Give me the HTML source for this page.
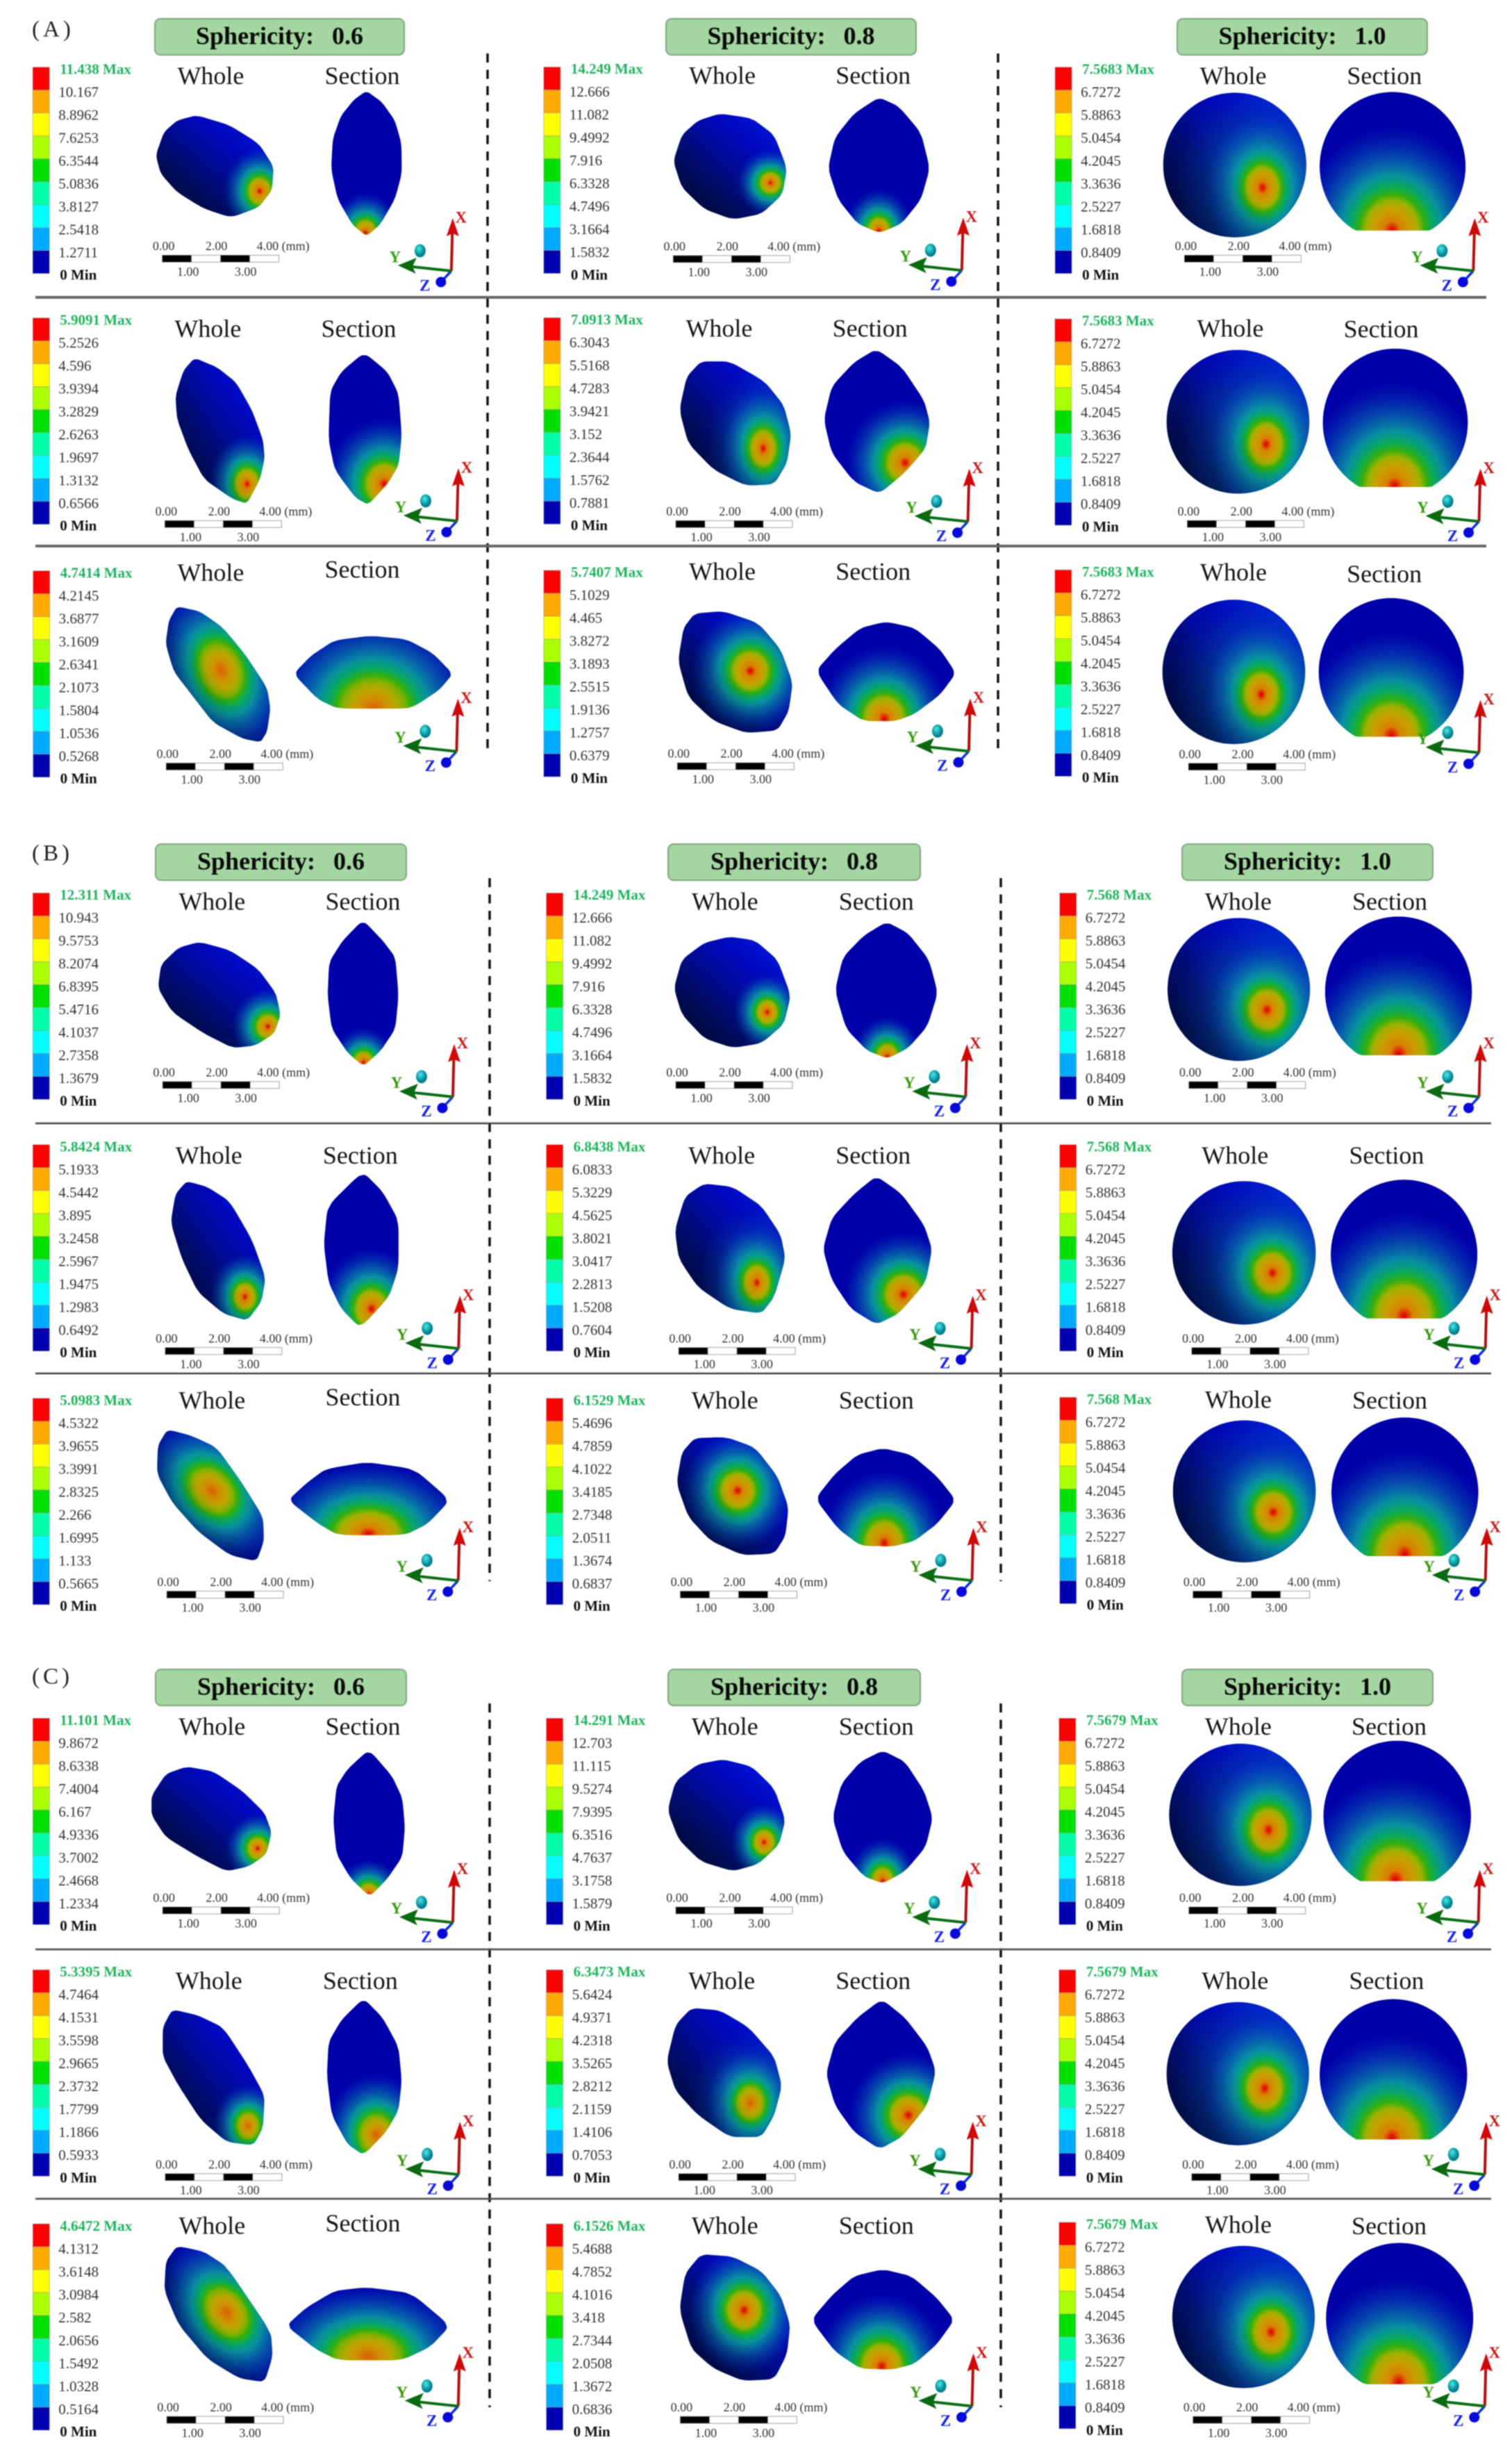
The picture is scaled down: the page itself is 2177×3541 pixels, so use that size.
<!DOCTYPE html>
<html lang="en">
<head>
<meta charset="utf-8">
<title>Sphericity stress contour comparison</title>
<style>
html,body{margin:0;padding:0;background:#fff;width:2177px;height:3541px;overflow:hidden}
svg{display:block;filter:blur(0.8px)}
text{font-family:"Liberation Serif",serif}
</style>
</head>
<body>
<svg id="figure" xmlns="http://www.w3.org/2000/svg" width="2177" height="3541" viewBox="0 0 2177 3541">
<defs>
<linearGradient id="baseWhole" x1="0.1" y1="0.95" x2="0.9" y2="0.05">
<stop offset="0" stop-color="#000c34"/><stop offset="0.4" stop-color="#000c80"/><stop offset="0.72" stop-color="#0008bc"/><stop offset="1" stop-color="#0018e0"/>
</linearGradient>
<linearGradient id="shadeWhole" x1="0" y1="1" x2="0.9" y2="0.2">
<stop offset="0" stop-color="#00082a" stop-opacity="0.4"/><stop offset="0.4" stop-color="#00082a" stop-opacity="0.15"/><stop offset="0.58" stop-color="#00082a" stop-opacity="0"/>
</linearGradient>
<radialGradient id="jet1">
<stop offset="0" stop-color="#d80000"/><stop offset="0.03" stop-color="#e02000"/><stop offset="0.09" stop-color="#d88000"/><stop offset="0.2" stop-color="#c8a000"/><stop offset="0.28" stop-color="#a0b000"/><stop offset="0.35" stop-color="#30b010"/><stop offset="0.43" stop-color="#08a860"/><stop offset="0.53" stop-color="#0898a0" stop-opacity="0.95"/><stop offset="0.72" stop-color="#0870b0" stop-opacity="0.6"/><stop offset="1" stop-color="#0040c0" stop-opacity="0"/>
</radialGradient>
<radialGradient id="jet2">
<stop offset="0" stop-color="#d86000"/><stop offset="0.12" stop-color="#d09000"/><stop offset="0.22" stop-color="#b8a800"/><stop offset="0.3" stop-color="#80b000"/><stop offset="0.36" stop-color="#30b010"/><stop offset="0.43" stop-color="#08a860"/><stop offset="0.53" stop-color="#0898a0" stop-opacity="0.95"/><stop offset="0.72" stop-color="#0870b0" stop-opacity="0.6"/><stop offset="1" stop-color="#0040c0" stop-opacity="0"/>
</radialGradient>
<radialGradient id="halo">
<stop offset="0" stop-color="#0890a8" stop-opacity="0.8"/><stop offset="0.5" stop-color="#0868b0" stop-opacity="0.5"/><stop offset="1" stop-color="#0040b8" stop-opacity="0"/>
</radialGradient>
<radialGradient id="cyanBall" cx="0.4" cy="0.35">
<stop offset="0" stop-color="#60e0e0"/><stop offset="0.6" stop-color="#10b0b8"/><stop offset="1" stop-color="#088090"/>
</radialGradient>
</defs>
</svg>
<script>
// Colour bands of the legend, top to bottom
const bandColors = ['#ff0000','#ffaa00','#ffff00','#aaff00','#00e000','#00ffaa','#00ffff','#00aaff','#0000b0'];

// Legend tick labels per panel: first entry is the Max label, the rest are contour levels
const ticksA00 = ['11.438','10.167','8.8962','7.6253','6.3544','5.0836','3.8127','2.5418','1.2711'];
const ticksA10 = ['5.9091','5.2526','4.596','3.9394','3.2829','2.6263','1.9697','1.3132','0.6566'];
const ticksA20 = ['4.7414','4.2145','3.6877','3.1609','2.6341','2.1073','1.5804','1.0536','0.5268'];
const ticksA01 = ['14.249','12.666','11.082','9.4992','7.916','6.3328','4.7496','3.1664','1.5832'];
const ticksA11 = ['7.0913','6.3043','5.5168','4.7283','3.9421','3.152','2.3644','1.5762','0.7881'];
const ticksA21 = ['5.7407','5.1029','4.465','3.8272','3.1893','2.5515','1.9136','1.2757','0.6379'];
const ticksA2x = ['7.5683','6.7272','5.8863','5.0454','4.2045','3.3636','2.5227','1.6818','0.8409'];
const ticksB00 = ['12.311','10.943','9.5753','8.2074','6.8395','5.4716','4.1037','2.7358','1.3679'];
const ticksB10 = ['5.8424','5.1933','4.5442','3.895','3.2458','2.5967','1.9475','1.2983','0.6492'];
const ticksB20 = ['5.0983','4.5322','3.9655','3.3991','2.8325','2.266','1.6995','1.133','0.5665'];
const ticksB01 = ['14.249','12.666','11.082','9.4992','7.916','6.3328','4.7496','3.1664','1.5832'];
const ticksB11 = ['6.8438','6.0833','5.3229','4.5625','3.8021','3.0417','2.2813','1.5208','0.7604'];
const ticksB21 = ['6.1529','5.4696','4.7859','4.1022','3.4185','2.7348','2.0511','1.3674','0.6837'];
const ticksB2x = ['7.568','6.7272','5.8863','5.0454','4.2045','3.3636','2.5227','1.6818','0.8409'];
const ticksC00 = ['11.101','9.8672','8.6338','7.4004','6.167','4.9336','3.7002','2.4668','1.2334'];
const ticksC10 = ['5.3395','4.7464','4.1531','3.5598','2.9665','2.3732','1.7799','1.1866','0.5933'];
const ticksC20 = ['4.6472','4.1312','3.6148','3.0984','2.582','2.0656','1.5492','1.0328','0.5164'];
const ticksC01 = ['14.291','12.703','11.115','9.5274','7.9395','6.3516','4.7637','3.1758','1.5879'];
const ticksC11 = ['6.3473','5.6424','4.9371','4.2318','3.5265','2.8212','2.1159','1.4106','0.7053'];
const ticksC21 = ['6.1526','5.4688','4.7852','4.1016','3.418','2.7344','2.0508','1.3672','0.6836'];
const ticksC2x = ['7.5679','6.7272','5.8863','5.0454','4.2045','3.3636','2.5227','1.6818','0.8409'];

// Scale-bar labels
const scaleTopLabels = ['0.00','2.00','4.00 (mm)'];
const scaleBottomLabels = ['1.00','3.00'];
const sphericityLabels = ['0.6','0.8','1.0'];
const partLabels = ['A','B','C'];

const svg = document.getElementById('figure');
const NS = 'http://www.w3.org/2000/svg';
function el(tag, attrs, parent, txt){
  const e = document.createElementNS(NS, tag);
  for (const k in attrs) e.setAttribute(k, attrs[k]);
  if (txt !== undefined) e.textContent = txt;
  (parent || svg).appendChild(e);
  return e;
}
function label(parent, cx, cy, txt, size, opts){
  const o = Object.assign({'font-size':size, fill:'#1a1a1a'}, opts || {});
  o.x = cx; o.y = cy + size * 0.32;
  return el('text', o, parent, txt);
}

// Reference measuring frames
const F = {
  a00:{ox:0,oy:0,sx:2.119,sy:3}, a10:{ox:0,oy:420,sx:2.178,sy:3}, a20:{ox:0,oy:780,sx:2.119,sy:3},
  a1:{ox:720,oy:60,sx:2.178,sy:1.452}, a02:{ox:1480,oy:0,sx:2.25,sy:3}, a2:{ox:1450,oy:420,sx:2.178,sy:2.178},
  b0:{ox:0,oy:1240,sx:2.178,sy:1.452}, b1:{ox:720,oy:1240,sx:2.178,sy:1.452}, b2:{ox:1450,oy:1240,sx:2.178,sy:1.452},
  c0:{ox:0,oy:2420,sx:2.178,sy:1.425}, c1:{ox:720,oy:2420,sx:2.178,sy:1.425}, c2:{ox:1450,oy:2420,sx:2.178,sy:1.425}
};
function mx(f,x){return f.ox + x / f.sx;}
function my(f,y){return f.oy + y / f.sy;}

function convexHull(pts){
  const p = pts.slice().sort(function(a,b){return a[0]-b[0] || a[1]-b[1];});
  function cross(o,a,b){return (a[0]-o[0])*(b[1]-o[1])-(a[1]-o[1])*(b[0]-o[0]);}
  const lo = [], up = [];
  p.forEach(function(q){
    while (lo.length > 1 && cross(lo[lo.length-2], lo[lo.length-1], q) <= 0) lo.pop();
    lo.push(q);
  });
  p.slice().reverse().forEach(function(q){
    while (up.length > 1 && cross(up[up.length-2], up[up.length-1], q) <= 0) up.pop();
    up.push(q);
  });
  lo.pop(); up.pop();
  return lo.concat(up);
}
function chaikin(pts, iters){
  let cur = pts;
  for (let k = 0; k < iters; k++){
    const out = [];
    for (let i = 0; i < cur.length; i++){
      const a = cur[i], b = cur[(i+1)%cur.length];
      out.push([a[0]*0.86+b[0]*0.14, a[1]*0.86+b[1]*0.14]);
      out.push([a[0]*0.14+b[0]*0.86, a[1]*0.14+b[1]*0.86]);
    }
    cur = out;
  }
  return cur;
}
function polyPath(pts){
  return pts.map(function(p,i){return (i?'L':'M') + p[0].toFixed(1) + ' ' + p[1].toFixed(1);}).join('') + 'Z';
}
function ellipsePath(cx, cy, rx, ry, cut){
  let d = '';
  for (let i = 0; i < 96; i++){
    const t = i / 96 * Math.PI * 2;
    let y = cy + ry * Math.sin(t);
    if (cut !== undefined && y > cut) y = cut;
    d += (i ? 'L' : 'M') + (cx + rx * Math.cos(t)).toFixed(1) + ' ' + y.toFixed(1);
  }
  return d + 'Z';
}

let clipId = 0;
function drawModel(parent, f, spec, hot, kind){
  let d;
  if (spec.e){
    const l = mx(f,spec.e[0]), r = mx(f,spec.e[1]), t = my(f,spec.e[2]), b = my(f,spec.e[3]);
    d = ellipsePath((l+r)/2, (t+b)/2, (r-l)/2, (b-t)/2);
  } else if (spec.c){
    const l = mx(f,spec.c[0]), r = mx(f,spec.c[1]), t = my(f,spec.c[2]), cut = my(f,spec.c[3]);
    const rx = (r-l)/2, ry = rx * 1.02;
    d = ellipsePath((l+r)/2, t + ry, rx, ry, cut);
  } else {
    const pts = [];
    for (let i = 0; i < spec.p.length; i += 2) pts.push([mx(f,spec.p[i]), my(f,spec.p[i+1])]);
    d = polyPath(chaikin(convexHull(pts), 3));
  }
  const id = 'clip' + (clipId++);
  const cp = el('clipPath', {id:id}, svg.querySelector('defs'));
  el('path', {d:d}, cp);
  const g = el('g', {'clip-path':'url(#' + id + ')'}, parent);
  
  
  el('path', {d:d, fill: kind === 'whole' ? 'url(#baseWhole)' : '#0000a8'}, g);
  const hx = mx(f,hot[0]), hy = my(f,hot[1]);
  if (hot[6]){
    el('ellipse', {cx:hx, cy:hy, rx:hot[2]*hot[6], ry:hot[3]*hot[6], fill:'url(#halo)'}, g);
  }
  const attrs = {cx:hx, cy:hy, rx:hot[2], ry:hot[3], fill:'url(#' + (hot[5] === 2 ? 'jet2' : 'jet1') + ')'};
  if (hot[4]) attrs.transform = 'rotate(' + hot[4] + ' ' + hx.toFixed(1) + ' ' + hy.toFixed(1) + ')';
  const hs = el('ellipse', attrs, g);
  
  
  if (kind === 'whole') el('path', {d:d, fill:'url(#shadeWhole)'}, g);
}

function drawLegend(parent, x, y, ticks){
  const g = el('g', {}, parent);
  
  
  const h = 33;
  bandColors.forEach(function(c, i){
    const b = el('rect', {x:x, y:y + i*h, width:24, height:h, fill:c, stroke:'#9a9a9a', 'stroke-width':0.6}, g);
    
    
  });
  ticks.forEach(function(v, i){
    const isMax = i === 0;
    const t = label(g, x + (isMax ? 39 : 37), y + 3 + i*33, isMax ? v + ' Max' : v, 21,
      isMax ? {fill:'#1db35c','font-weight':'bold'} : {fill:'#333'});
    
    
  });
  const m = label(g, x + 39, y + 3 + 9*32.9, '0 Min', 21, {fill:'#111','font-weight':'bold'});
  
  
}

function drawScale(parent, x, y){
  const g = el('g', {}, parent);
  
  
  for (let i = 0; i < 4; i++){
    el('rect', {x:x + i*42, y:y, width:42, height:10, fill: i % 2 ? '#fff' : '#000', stroke:'#888', 'stroke-width':0.8}, g);
  }
  const topX = [2, 78];
  scaleTopLabels.forEach(function(t, i){
    const o = {fill:'#333'};
    if (i < 2) o['text-anchor'] = 'middle';
    const s = label(g, i < 2 ? x + topX[i] : x + 136, y - 13, t, 18, o);
    
    
  });
  const botX = [37, 120];
  scaleBottomLabels.forEach(function(t, i){
    const s = label(g, x + botX[i], y + 24, t, 18, {fill:'#333','text-anchor':'middle'});
    
    
  });
}

function drawTriad(parent, x, y){
  const g = el('g', {}, parent);
  
  
  el('ellipse', {cx:x-45, cy:y-29, rx:8, ry:9.5, fill:'url(#cyanBall)'}, g);
  el('line', {x1:x, y1:y, x2:x-15, y2:y+16, stroke:'#1030e0','stroke-width':3.5}, g);
  el('circle', {cx:x-15, cy:y+16, r:7.5, fill:'#0808d8'}, g);
  el('line', {x1:x, y1:y, x2:x+1.5, y2:y-58, stroke:'#b01010','stroke-width':4}, g);
  el('path', {d:'M'+(x+2)+' '+(y-76)+'L'+(x+11)+' '+(y-50)+'L'+(x+2)+' '+(y-54)+'L'+(x-7)+' '+(y-50)+'Z', fill:'#d00808'}, g);
  el('line', {x1:x, y1:y, x2:x-56, y2:y-6, stroke:'#0a6e14','stroke-width':4}, g);
  el('path', {d:'M'+(x-77)+' '+(y-8)+'L'+(x-50)+' '+(y-19)+'L'+(x-56)+' '+(y-6)+'L'+(x-51)+' '+(y+4)+'Z', fill:'#0a6a10'}, g);
  const X = label(g, x+14, y-77, 'X', 23, {fill:'#c81818','font-weight':'bold','text-anchor':'middle'});
  
  
  const Y = label(g, x-81, y-20, 'Y', 23, {fill:'#3a9a10','font-weight':'bold','text-anchor':'middle'});
  
  
  const Z = label(g, x-38, y+21, 'Z', 23, {fill:'#1820e8','font-weight':'bold','text-anchor':'middle'});
  
  
}

function panel(f, ticks, o){
  const g = el('g', {});
  
  
  drawLegend(g, mx(f,o.bar[0]), my(f,o.bar[1]), ticks);
  const w = label(g, mx(f,o.wl[0]), my(f,o.wl[1]), 'Whole', 36, {'text-anchor':'middle',fill:'#151515'});
  
  
  const s = label(g, mx(f,o.sl[0]), my(f,o.sl[1]), 'Section', 36, {'text-anchor':'middle',fill:'#151515'});
  
  
  drawModel(g, f, o.W, o.Wh, 'whole');
  drawModel(g, f, o.S, o.Sh, 'section');
  drawScale(g, mx(f,o.sc[0]), my(f,o.sc[1]));
  drawTriad(g, mx(f,o.t[0]), my(f,o.t[1]));
}

// ---------- Headers, part labels, separators ----------
const headerX = [[223,582,959,1319,1695,2055],[224,585,962,1325,1702,2063],[224,585,962,1325,1702,2063]];
const headerY = [27,1215,2403];
const partLabelY = [42,1228,2413];
const vsepX = [[702,1437],[705,1441],[705,1441]];
const vsepY = [[77,1085],[1264,2276],[2452,3465]];
const hsepY = [[428,786],[1617,1977],[2806,3165]];
const hsepEnd = [2140,2147,2147];
const hsepW = [4,2.6,2.8];
const hsepC = ['#666','#444','#555'];

partLabels.forEach(function(p, k){
  const lab = label(svg, 46, partLabelY[k], '(' + p + ')', 33, {'letter-spacing':5,fill:'#222'});
  
  
  sphericityLabels.forEach(function(sv, c){
    const x0 = headerX[k][c*2], x1 = headerX[k][c*2+1];
    const g = el('g', {});
    
    
    el('rect', {x:x0, y:headerY[k], width:x1-x0, height:52, rx:8, ry:8, fill:'#a3d6a0', stroke:'#7fa67f','stroke-width':2}, g);
    const t = label(g, (x0+x1)/2, headerY[k]+25, 'Sphericity:', 36, {'text-anchor':'middle','font-weight':'bold',fill:'#0a0a0a'});
    el('tspan', {dx:26}, t, sv);
  });
  vsepX[k].forEach(function(x){
    const v = el('line', {x1:x, y1:vsepY[k][0], x2:x, y2:vsepY[k][1], stroke:'#111','stroke-width':3.5,'stroke-dasharray':'13 10.5'});
    
    
  });
  hsepY[k].forEach(function(y){
    const h = el('line', {x1:51, y1:y, x2:hsepEnd[k], y2:y, stroke:hsepC[k],'stroke-width':hsepW[k]});
    
    
  });
});

// ---------- Group A ----------
panel(F.a00, ticksA00, {bar:[100,290],wl:[643,328],sl:[1105,328],sc:[495,1102],t:[1377,1170],
 W:{p:[600,497,700,540,790,620,835,720,830,820,790,895,705,940,620,900,540,830,490,750,475,670,500,570,540,520]},Wh:[792,825,52,62,0,1],
 S:{p:[1118,392,1165,440,1205,520,1225,620,1226,750,1205,860,1160,970,1118,1020,1075,970,1030,860,1010,730,1015,600,1040,500,1080,430]},Sh:[1115,1005,50,58,0,1]});
panel(F.a10, ticksA10, {bar:[103,113],wl:[652,160],sl:[1125,160],sc:[517,988],t:[1433,990],
 W:{p:[610,285,680,325,740,390,790,510,825,640,830,720,815,810,775,915,730,895,640,810,590,680,555,550,550,450,575,340]},Wh:[775,830,55,70,0,1],
 S:{p:[1142,262,1215,345,1250,440,1260,620,1250,750,1215,830,1155,920,1115,890,1050,770,1030,640,1035,430,1070,345]},Sh:[1205,830,85,95,0,1]});
panel(F.a20, ticksA20, {bar:[101,125],wl:[643,133],sl:[1105,120],sc:[507,955],t:[1393,905],
 W:{p:[540,278,610,300,680,370,750,490,815,630,825,720,815,820,795,865,740,850,650,780,590,670,530,560,505,440,515,340]},Wh:[675,555,90,125,-22,2],
 S:{p:[895,570,950,490,1020,425,1130,405,1240,420,1320,480,1382,570,1340,640,1270,705,1240,720,1030,720,970,680]},Sh:[1140,720,150,135,0,2]});
panel(F.a1, ticksA01, {bar:[137,53],wl:[697,71],sl:[1170,71],sc:[543,447],t:[1448,478],
 W:{p:[690,150,790,160,860,195,900,265,885,320,820,360,730,372,640,350,570,305,543,250,570,195,620,165]},Wh:[848,295,48,48,0,1],
 S:{p:[1188,116,1250,135,1320,190,1348,265,1320,330,1260,380,1190,400,1120,380,1060,330,1028,265,1050,200,1110,150]},Sh:[1188,395,50,60,0,1]});
panel(F.a1, ticksA11, {bar:[137,577],wl:[687,600],sl:[1160,600],sc:[551,1001],t:[1467,1003],
 W:{p:[630,668,720,668,830,710,890,760,913,820,900,880,860,925,770,928,670,895,590,840,562,770,585,700]},Wh:[825,850,60,85,0,1,1.4],
 S:{p:[1180,642,1260,680,1330,750,1348,795,1335,850,1270,900,1190,945,1110,920,1040,860,1015,790,1040,720,1110,670]},Sh:[1270,880,85,90,0,1]});
panel(F.a1, ticksA21, {bar:[137,1105],wl:[697,1108],sl:[1170,1108],sc:[556,1507],t:[1470,1483],
 W:{p:[610,1195,700,1190,810,1215,880,1270,918,1340,905,1400,870,1440,770,1445,670,1420,590,1370,558,1295,575,1225]},Wh:[785,1315,85,90,0,1],
 S:{p:[990,1315,1050,1270,1130,1225,1210,1212,1300,1225,1380,1270,1430,1320,1380,1365,1300,1405,1240,1420,1140,1420,1060,1385]},Sh:[1205,1415,95,105,0,1]});
panel(F.a02, ticksA2x, {bar:[88,290],wl:[665,328],sl:[1155,328],sc:[507,1102],t:[1443,1170],
 W:{e:[438,902,400,1025]},Wh:[760,810,80,100,0,1,1.6],
 S:{c:[945,1418,397,995]},Sh:[1180,995,135,150,0,1]});
panel(F.a2, ticksA2x, {bar:[150,85],wl:[700,115],sl:[1173,118],sc:[565,717],t:[1480,720],
 W:{e:[500,948,182,633]},Wh:[812,478,80,100,0,1,1.6],
 S:{c:[990,1445,178,612]},Sh:[1215,610,135,150,0,1]});
panel(F.a2, ticksA2x, {bar:[150,872],wl:[710,880],sl:[1183,885],sc:[569,1478],t:[1480,1445],
 W:{e:[487,935,965,1418]},Wh:[797,1262,80,100,0,1,1.6],
 S:{c:[977,1432,960,1395]},Sh:[1205,1392,135,150,0,1]});

// ---------- Group B ----------
panel(F.b0, ticksB00, {bar:[103,66],wl:[665,84],sl:[1138,84],sc:[510,460],t:[1420,492],
 W:{p:[625,168,720,185,810,225,865,275,880,320,860,360,800,385,730,390,640,360,540,315,495,265,505,215,560,180]},Wh:[840,345,52,55,0,1],
 S:{p:[1138,122,1200,165,1240,200,1250,280,1240,350,1195,395,1140,428,1090,400,1040,350,1027,280,1032,210,1075,165]},Sh:[1140,420,45,50,0,1]});
panel(F.b0, ticksB10, {bar:[103,592],wl:[655,615],sl:[1130,615],sc:[518,1016],t:[1438,1018],
 W:{p:[585,668,650,680,720,710,790,790,833,870,820,920,775,960,700,945,620,900,570,830,535,755,550,695]},Wh:[768,910,50,62,0,1],
 S:{p:[1137,648,1200,690,1250,750,1250,850,1220,910,1130,975,1070,935,1030,880,1015,800,1027,720,1075,690]},Sh:[1165,935,75,88,0,1]});
panel(F.b0, ticksB20, {bar:[103,1122],wl:[665,1127],sl:[1138,1120],sc:[523,1525],t:[1437,1503],
 W:{p:[525,1187,600,1200,680,1225,760,1300,825,1370,828,1420,805,1463,720,1450,620,1400,540,1340,492,1280,495,1220]},Wh:[665,1315,85,115,-45,2],
 S:{p:[903,1335,960,1300,1020,1270,1150,1255,1300,1270,1412,1335,1340,1385,1270,1408,1060,1408,1000,1385]},Sh:[1155,1405,150,105,0,1]});
panel(F.b1, ticksB01, {bar:[145,66],wl:[705,84],sl:[1180,84],sc:[551,460],t:[1460,492],
 W:{p:[720,157,800,165,870,205,912,280,890,340,820,380,730,390,640,370,570,320,545,265,570,205,640,170]},Wh:[838,315,48,55,0,1],
 S:{p:[1212,126,1280,150,1345,205,1373,275,1340,345,1280,390,1215,412,1150,395,1085,350,1050,270,1075,200,1140,155]},Sh:[1214,408,50,58,0,1]});
panel(F.b1, ticksB11, {bar:[145,592],wl:[695,615],sl:[1170,615],sc:[560,1016],t:[1478,1018],
 W:{p:[640,673,730,680,820,720,880,780,895,830,860,910,820,945,720,935,620,890,560,830,548,770,580,700]},Wh:[805,880,60,80,0,1,1.4],
 S:{p:[1180,657,1260,695,1330,760,1355,810,1335,880,1250,945,1180,968,1100,935,1040,875,1012,810,1040,745,1110,695]},Sh:[1265,905,85,90,0,1]});
panel(F.b1, ticksB21, {bar:[145,1122],wl:[705,1127],sl:[1180,1127],sc:[565,1525],t:[1480,1503],
 W:{p:[610,1205,710,1203,800,1225,870,1285,905,1350,895,1410,860,1447,760,1450,660,1420,590,1370,553,1300,570,1235]},Wh:[745,1315,80,85,0,1],
 S:{p:[988,1332,1050,1280,1120,1240,1200,1226,1290,1240,1370,1285,1430,1335,1370,1385,1300,1420,1230,1432,1130,1430,1060,1395]},Sh:[1205,1425,90,105,0,1]});
panel(F.b2, ticksB2x, {bar:[165,66],wl:[725,84],sl:[1200,84],sc:[570,460],t:[1480,492],
 W:{e:[503,950,118,417]},Wh:[815,310,85,95,0,1,1.6],
 S:{c:[997,1458,115,405]},Sh:[1228,402,135,150,0,1]});
panel(F.b2, ticksB2x, {bar:[165,592],wl:[715,615],sl:[1190,615],sc:[579,1016],t:[1500,1018],
 W:{e:[518,968,668,968]},Wh:[832,860,85,95,0,1,1.6],
 S:{c:[1015,1475,665,955]},Sh:[1245,950,135,150,0,1]});
panel(F.b2, ticksB2x, {bar:[165,1120],wl:[725,1125],sl:[1200,1127],sc:[583,1525],t:[1500,1503],
 W:{e:[520,968,1168,1465]},Wh:[835,1360,85,95,0,1,1.6],
 S:{c:[1017,1478,1162,1452]},Sh:[1247,1448,135,150,0,1]});

// ---------- Group C ----------
panel(F.c0, ticksC00, {bar:[103,76],wl:[665,93],sl:[1138,93],sc:[510,463],t:[1420,495],
 W:{p:[585,175,670,185,760,225,830,270,852,310,835,355,780,380,710,390,620,360,520,320,475,275,475,235,520,190]},Wh:[808,343,46,50,0,1],
 S:{p:[1157,140,1230,195,1262,240,1270,300,1262,360,1215,405,1160,442,1100,405,1055,355,1045,285,1055,215,1090,180]},Sh:[1157,437,48,50,0,1]});
panel(F.c0, ticksC10, {bar:[103,592],wl:[655,615],sl:[1130,615],sc:[518,1010],t:[1438,1012],
 W:{p:[540,673,620,685,700,710,780,790,830,850,825,915,795,952,710,945,630,900,560,830,510,770,510,710]},Wh:[778,912,50,60,0,2],
 S:{p:[1140,650,1200,690,1250,750,1260,820,1250,880,1210,925,1140,972,1090,950,1040,890,1025,810,1030,740,1070,695]},Sh:[1180,930,75,88,0,2]});
panel(F.c0, ticksC20, {bar:[103,1113],wl:[665,1117],sl:[1138,1112],sc:[523,1508],t:[1437,1487],
 W:{p:[555,1158,640,1170,710,1200,780,1270,850,1335,855,1385,830,1438,750,1430,650,1390,560,1320,515,1250,520,1190]},Wh:[710,1295,85,115,-35,2],
 S:{p:[897,1322,960,1285,1050,1250,1150,1243,1290,1255,1412,1322,1350,1365,1260,1393,1060,1393,990,1370]},Sh:[1155,1385,150,105,0,2]});
panel(F.c1, ticksC01, {bar:[145,76],wl:[705,93],sl:[1180,93],sc:[551,463],t:[1460,495],
 W:{p:[700,160,790,175,860,220,895,285,875,335,810,375,730,390,630,370,560,325,525,265,550,205,620,170]},Wh:[828,330,48,55,0,1],
 S:{p:[1200,142,1270,165,1330,225,1357,280,1335,340,1270,390,1200,415,1140,400,1075,350,1042,280,1070,210,1130,165]},Sh:[1200,410,50,62,0,1]});
panel(F.c1, ticksC11, {bar:[145,592],wl:[695,615],sl:[1170,615],sc:[560,1010],t:[1478,1012],
 W:{p:[600,670,690,675,780,710,860,770,884,830,860,890,820,935,720,935,620,890,550,840,522,780,550,705]},Wh:[785,865,62,75,0,2,1.4],
 S:{p:[1197,652,1270,690,1340,750,1367,800,1340,870,1260,935,1190,960,1110,925,1050,870,1022,805,1050,740,1120,690]},Sh:[1280,890,85,90,0,1]});
panel(F.c1, ticksC21, {bar:[145,1113],wl:[705,1117],sl:[1180,1117],sc:[565,1508],t:[1480,1487],
 W:{p:[630,1175,730,1180,820,1210,880,1260,910,1320,900,1380,860,1432,760,1435,670,1410,600,1370,562,1290,580,1215]},Wh:[765,1290,80,90,0,1],
 S:{p:[975,1310,1040,1260,1110,1220,1200,1206,1290,1220,1370,1265,1425,1310,1370,1360,1300,1400,1230,1412,1130,1410,1050,1375]},Sh:[1197,1405,95,105,0,1]});
panel(F.c2, ticksC2x, {bar:[163,76],wl:[725,93],sl:[1198,93],sc:[570,463],t:[1478,495],
 W:{e:[508,955,128,420]},Wh:[820,305,85,100,0,1,1.6],
 S:{c:[992,1455,122,410]},Sh:[1218,407,135,150,0,1]});
panel(F.c2, ticksC2x, {bar:[163,592],wl:[715,615],sl:[1190,615],sc:[579,1010],t:[1498,1012],
 W:{e:[500,947,658,952]},Wh:[808,835,85,100,0,1,1.6],
 S:{c:[980,1443,652,940]},Sh:[1207,937,135,150,0,1]});
panel(F.c2, ticksC2x, {bar:[163,1110],wl:[725,1115],sl:[1198,1118],sc:[583,1508],t:[1498,1487],
 W:{e:[518,965,1158,1450]},Wh:[828,1335,85,100,0,1,1.6],
 S:{c:[1000,1462,1152,1442]},Sh:[1228,1438,135,150,0,1]});
</script>
</body>
</html>
